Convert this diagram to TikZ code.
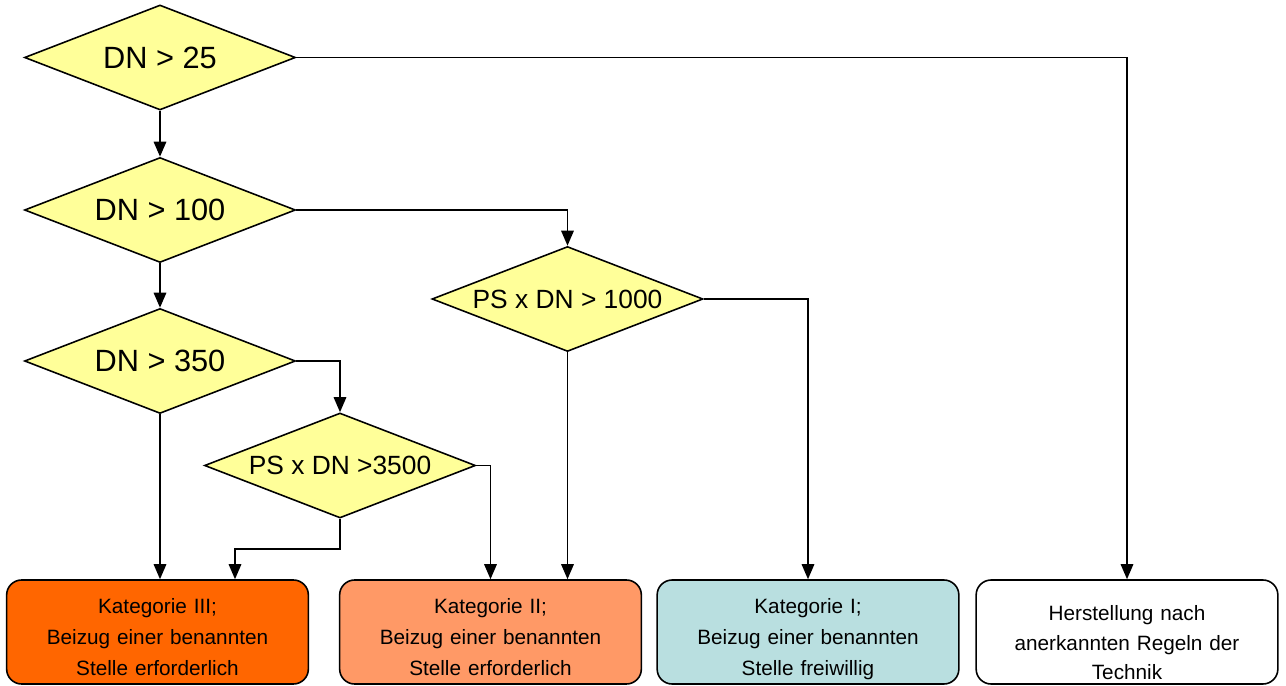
\documentclass[tikz,border=0pt]{standalone}
\usepackage{fontspec}
\setmainfont{Liberation Sans}
\usepackage{xcolor}
\usetikzlibrary{arrows.meta,positioning,shapes,shapes.geometric}

\definecolor{raute}{HTML}{FFFF99}
\definecolor{katdrei}{HTML}{FF6600}
\definecolor{katzwei}{HTML}{FF9966}
\definecolor{kateins}{HTML}{B9DFE0}

\begin{document}
\begin{tikzpicture}[
        line width=0.9pt,
        frage/.style={
            diamond,
            draw,
            fill=raute,
            shape aspect=2.6,
            inner sep=0pt,
            minimum width=5.42cm,
            minimum height=2.1cm,
            font=\fontsize{17.5}{20}\selectfont
        },
        kfrage/.style={
            frage,
            font=\fontsize{15}{17}\selectfont
        },
        kasten/.style={
            rectangle,
            rounded corners=0.3cm,
            draw,
            minimum width=6cm,
            minimum height=2.08cm,
            text width=5.8cm,
            text height=10pt,
            text depth=31pt,
            align=center,
            font=\fontsize{11.8}{17.6}\selectfont
        },
        pfeil/.style={-{Triangle[length=0.3cm,width=0.25cm]}}
    ]
        \useasboundingbox (0,0) rectangle (25.72,-13.72);

        % Abfragen
        \node (dn25) [frage] at (3.20,-1.15) {DN > 25};
        \node (dn100) [frage] at (3.20,-4.20) {DN > 100};
        \node (dn350) [frage] at (3.20,-7.22) {DN > 350};
        \node (ps3500) [kfrage] at (6.80,-9.31) {PS x DN >3500};
        \node (ps1000) [kfrage] at (11.35,-5.98) {PS x DN > 1000};

        % Kategorien
        \node (kat3) [kasten, fill=katdrei] at (3.15,-12.64)
        {
            Kategorie III;\\
            Beizug einer benannten\\
            Stelle erforderlich
        };
        \node (kat2) [kasten, fill=katzwei] at (9.81,-12.64)
        {
            Kategorie II;\\
            Beizug einer benannten\\
            Stelle erforderlich
        };
        \node (kat1) [kasten, fill=kateins] at (16.16,-12.64)
        {
            Kategorie I;\\
            Beizug einer benannten\\
            Stelle freiwillig
        };
        \node (kat0) [kasten, fill=white, text depth=23pt,
            font=\fontsize{11.8}{16.8}\selectfont] at (22.54,-12.64)
        {
            Herstellung nach\\
            anerkannten Regeln der\\
            Technik
        };

        \draw[pfeil] (dn25.east) -| (kat0.north);
        \draw[pfeil] (dn25) -- (dn100);
        \draw[pfeil] (dn100.east) -| (ps1000.north);
        \draw[pfeil] (dn100) -- (dn350);
        \draw[pfeil] (dn350.east) -| (ps3500.north);
        \draw[pfeil] (dn350.south) -- (dn350.south |- kat3.north);
        \draw[pfeil] (ps3500.south) -- ++(0,-0.6) -| ([xshift=1.55cm]kat3.north);
        \draw[pfeil] (ps3500.east) -| (kat2.north);
        \draw[pfeil] (ps1000.south) -- (ps1000.south |- kat2.north);
        \draw[pfeil] (ps1000.east) -| (kat1.north);
    \end{tikzpicture}
\end{document}
